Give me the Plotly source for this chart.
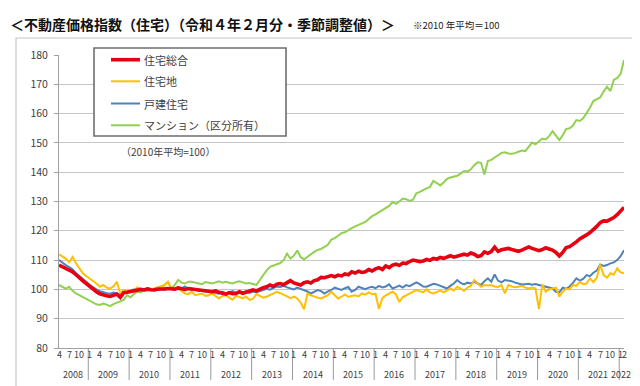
import plotly.graph_objects as go

# ---------------- data (monthly, 2008-04 .. 2022-02, 2010 average = 100) ----------------
start_year, start_month = 2008, 4

total = [  # 住宅総合
    108.3, 107.8, 107.2, 106.6, 106.0, 105.0, 103.8, 102.9, 102.0,
    101.0, 100.0, 99.2, 98.5, 98.0, 97.8, 97.6, 98.0, 98.4, 97.3, 98.9, 99.0,
    99.2, 99.5, 99.7, 100.0, 99.8, 100.2, 99.9, 99.8, 100.1, 100.0, 100.2, 100.3,
    100.3, 100.1, 100.5, 100.2, 100.0, 100.3, 100.2, 99.9, 100.0, 99.6, 99.7, 99.4,
    99.2, 99.5, 99.0, 98.8, 98.4, 98.9, 98.5, 98.6, 99.2, 98.7, 99.0, 99.3,
    99.8, 99.5, 100.2, 100.6, 100.9, 101.5, 101.0, 101.8, 102.0, 101.6, 102.3, 103.0,
    102.2, 101.8, 101.5, 102.3, 102.6, 102.2, 103.0, 103.3, 104.1, 104.0, 104.5, 104.7,
    104.3, 104.9, 104.6, 105.3, 105.0, 106.0, 105.6, 106.2, 105.8, 106.0, 106.8, 106.3,
    107.0, 107.4, 106.8, 108.0, 107.4, 108.3, 108.6, 108.2, 109.0, 108.8, 109.5, 110.0,
    109.8, 109.5, 109.7, 110.2, 109.9, 110.6, 110.3, 110.9, 110.6, 111.2, 111.5, 111.0,
    111.3, 111.6, 112.0, 111.7, 112.4, 112.0, 111.2, 111.5, 112.8, 112.3, 112.9, 114.4,
    113.0, 113.5, 113.8, 114.0, 113.6, 113.2, 113.0, 113.4, 113.9, 114.5, 114.0, 113.6,
    113.2, 113.6, 114.2, 113.8, 113.4, 112.6, 111.4, 112.6, 114.3, 114.6, 115.3, 116.2,
    117.2, 117.8, 118.6, 119.4, 120.3, 121.5, 122.8, 123.4, 123.3, 123.8, 124.5, 125.5,
    126.6, 128.0,
]

land = [  # 住宅地
    112.0, 111.3, 110.5, 109.3, 111.1, 108.9, 107.0, 105.5, 104.6,
    103.8, 102.8, 102.0, 100.9, 101.5, 100.6, 100.3, 101.0, 102.6, 98.6, 99.8, 99.2,
    99.8, 99.5, 100.7, 100.0, 99.6, 100.2, 99.8, 100.3, 100.7, 101.0, 101.5, 102.6,
    100.3, 100.0, 100.2, 99.5, 98.6, 98.4, 99.2, 98.0, 98.3, 98.6, 97.8, 98.0,
    98.6, 97.6, 96.9, 97.8, 98.0, 97.2, 96.5, 97.8, 97.5, 97.0, 97.5, 96.4,
    96.8, 98.4, 97.8, 97.2, 97.5, 98.0, 98.6, 99.2, 98.7, 98.0, 97.6, 97.0,
    97.5, 96.9, 95.5, 93.2, 98.6, 98.0, 97.5, 97.2, 96.9, 97.4, 98.0, 99.2,
    98.0, 96.9, 97.5, 98.3, 97.5, 97.8, 98.0, 97.6, 98.6, 98.2, 99.0, 98.4,
    98.5, 93.3, 97.0, 98.0, 98.6, 99.2, 98.3, 95.7, 97.4, 98.0, 98.6, 99.2,
    99.8, 99.4, 99.0, 100.0, 99.0, 98.6, 99.2, 99.6, 99.0, 99.8, 100.3, 99.6,
    100.9, 100.3, 99.5, 100.6, 101.2, 103.2, 102.0, 100.9, 101.5, 101.3, 101.5, 101.0,
    100.8, 101.5, 98.6, 101.5, 101.0, 100.7, 100.9, 101.2, 100.6, 100.3, 100.6, 100.3,
    93.3, 101.7, 99.2, 100.0, 100.3, 100.6, 97.5, 99.2, 100.3, 100.0, 101.5, 101.2,
    102.6, 101.8, 102.0, 103.8, 102.5, 104.0, 108.5, 104.9, 104.0, 105.5, 105.0, 107.2,
    105.8, 105.5,
]

house = [  # 戸建住宅
    110.0, 109.0, 108.3, 107.6, 106.8, 105.5, 104.6, 103.5, 102.6,
    101.5, 100.6, 100.0, 99.4, 99.0, 98.7, 98.5, 98.9, 98.6, 98.0, 99.0, 99.4,
    99.6, 100.0, 99.8, 100.2, 99.9, 100.4, 100.0, 99.7, 100.2, 100.1, 99.8, 100.3,
    100.5, 100.0, 100.8, 100.3, 101.0, 100.2, 99.8, 100.0, 99.5, 99.7, 99.2, 99.5,
    99.0, 98.8, 98.5, 99.2, 98.6, 99.0, 99.4, 98.9, 99.2, 99.0, 99.4, 98.8,
    99.3, 99.0, 99.5, 99.8, 100.2, 99.9, 100.5, 101.0, 100.8, 101.2, 100.7, 100.4,
    100.0, 100.6, 100.2, 99.8, 99.3, 98.6, 99.2, 99.8, 99.4, 98.6, 99.3, 99.8,
    100.6, 100.2, 99.8, 100.4, 100.8, 99.2, 99.8, 100.9, 100.5, 100.1, 100.6, 100.9,
    100.4, 101.2, 100.7, 101.0, 101.7, 100.3, 100.8, 101.3, 100.6, 101.5, 101.1, 101.9,
    102.4, 101.8, 101.0, 100.9, 101.4, 101.9, 101.7, 101.2, 100.6, 100.3, 101.2, 102.0,
    103.2, 102.2, 101.7, 102.3, 102.0, 102.6, 102.0, 101.5, 102.8, 103.8, 102.6, 105.1,
    103.0, 102.4, 103.2, 103.0, 102.8, 102.3, 102.0, 101.7, 101.8, 101.9, 101.6, 101.8,
    101.5, 101.2, 100.9, 100.7, 100.3, 99.2, 99.0, 100.6, 100.2, 101.0, 102.2, 103.8,
    103.0, 103.6, 104.9, 104.5, 105.7, 106.4, 108.5, 108.0, 108.3, 108.9, 109.2, 110.0,
    111.3, 113.4,
]

condo = [  # マンション（区分所有）
    101.5, 100.8, 100.3, 100.9, 99.5, 98.6, 98.0, 97.5, 96.9,
    96.2, 95.5, 94.9, 94.7, 95.2, 94.8, 94.3, 95.0, 95.4, 95.8, 96.4, 98.0,
    97.3, 98.4, 99.2, 99.0, 99.8, 99.5, 100.0, 100.3, 100.0, 100.3, 101.5, 102.6,
    100.3, 101.5, 103.2, 102.3, 102.0, 102.6, 102.6, 102.3, 102.0, 101.8, 102.5, 102.2,
    102.0, 102.4, 102.8, 102.3, 102.6, 102.3, 102.0, 102.5, 102.8, 102.4, 102.0, 102.2,
    101.8, 101.5, 103.2, 105.0, 106.5, 107.7, 108.2, 108.6, 109.0, 110.0, 112.2, 110.5,
    111.5, 113.3, 111.0, 110.3, 111.2, 112.0, 112.8, 113.5, 113.8, 114.5, 115.2, 117.0,
    117.5, 118.3, 119.2, 119.5, 120.3, 120.9, 121.5, 122.0, 122.6, 123.0, 124.0, 125.0,
    125.6, 126.3, 127.2, 127.8, 128.5, 129.8, 129.2, 130.0, 131.0, 130.8, 130.2, 130.6,
    132.8, 133.3, 134.0, 134.5, 135.0, 137.0, 136.3, 135.5, 136.5, 137.7, 138.2, 138.6,
    138.8, 139.5, 140.4, 140.2, 141.0, 142.4, 143.4, 143.2, 139.2, 143.8, 144.2, 145.0,
    145.8, 146.6, 146.8, 146.4, 146.3, 146.5, 147.0, 147.4, 147.2, 148.5, 150.1, 149.5,
    150.6, 151.5, 151.2, 152.3, 154.0, 152.5, 151.0, 152.6, 154.7, 155.0, 155.9, 157.8,
    157.5, 158.4, 160.0, 162.0, 164.3, 165.0, 165.5, 167.5, 169.2, 167.7, 171.5, 172.2,
    173.5, 178.3,
]

series_names = ["住宅総合", "住宅地", "戸建住宅", "マンション（区分所有）"]
series_colors = ["#e60012", "#ffc000", "#4f81bd", "#92d050"]
series_widths = [3.6, 2.0, 2.0, 2.0]
month_label_set = [1, 4, 7, 10]
y_ticks = [80, 90, 100, 110, 120, 130, 140, 150, 160, 170, 180]

# ---------------- geometry helpers ----------------
W, H = 640, 386
PL, PR, PT, PB = 51, 616, 47, 340
FONT = "Noto Sans CJK JP"


def px_x(x):
    return (x - PL) / (PR - PL)


def px_y(y):
    return (PB - y) / (PB - PT)


n = len(total)
assert all(len(s) == n for s in (land, house, condo)), [len(s) for s in (total, land, house, condo)]

months = []
yy, mm = start_year, start_month
for _ in range(n):
    months.append((yy, mm))
    mm += 1
    if mm > 12:
        yy, mm = yy + 1, 1
idx = list(range(n))

fig = go.Figure()
all_series = [total, land, house, condo]
draw_order = [3, 2, 1, 0]
for k in draw_order:
    fig.add_trace(go.Scatter(
        x=idx, y=all_series[k], mode="lines", name=series_names[k],
        line=dict(color=series_colors[k], width=series_widths[k]),
        showlegend=False,
    ))

annotations = []
shapes = []
label_font = dict(family=FONT, size=9, color="#404040")

# month labels
for i, (y_, m_) in enumerate(months):
    show = m_ in month_label_set or (i == n - 1)
    if show:
        annotations.append(dict(x=i, y=px_y(346), xref="x", yref="paper", text=str(m_),
                                showarrow=False, font=label_font, xanchor="center", yanchor="middle"))

# year labels and separators
years = sorted(set(y_ for y_, _ in months))
for yr in years:
    ids = [i for i, (y_, _) in enumerate(months) if y_ == yr]
    first, last = ids[0], ids[-1]
    left = first - 0.5 if first > 0 else 0
    right = last + 0.5 if last < n - 1 else n - 1
    annotations.append(dict(x=(left + right) / 2, y=px_y(366), xref="x", yref="paper", text=str(yr),
                            showarrow=False, font=dict(family=FONT, size=9, color="#404040"),
                            xanchor="center", yanchor="middle"))
    if first > 0:
        shapes.append(dict(type="line", xref="x", yref="paper", x0=first - 0.4, x1=first - 0.4,
                           y0=0, y1=px_y(372), line=dict(color="#9a9a9a", width=1)))

# outer frame
shapes.append(dict(type="rect", xref="paper", yref="paper", x0=px_x(8), x1=px_x(627),
                   y0=px_y(380), y1=px_y(30), line=dict(color="#c4c4c4", width=1.2), layer="below"))

# legend box (drawn in the Excel style of the original)
shapes.append(dict(type="rect", xref="paper", yref="paper", x0=px_x(86), x1=px_x(278),
                   y0=px_y(128), y1=px_y(40), line=dict(color="#6e6e6e", width=1.6),
                   fillcolor="white", layer="above"))
legend_rows = [51.7, 73.3, 95.5, 117.3]
for k in range(4):
    ry = legend_rows[k]
    shapes.append(dict(type="line", xref="paper", yref="paper", x0=px_x(103), x1=px_x(132),
                       y0=px_y(ry), y1=px_y(ry),
                       line=dict(color=series_colors[k], width=series_widths[k])))
    annotations.append(dict(x=px_x(134), y=px_y(ry), xref="paper", yref="paper", text=series_names[k],
                            showarrow=False, xanchor="left", yanchor="middle",
                            font=dict(family=FONT, size=11, color="#404040")))

# titles
annotations.append(dict(x=px_x(0), y=px_y(16), xref="paper", yref="paper",
                        text="<b>＜不動産価格指数（住宅）（令和４年２月分・季節調整値）＞</b>",
                        showarrow=False, xanchor="left", yanchor="middle",
                        font=dict(family=FONT, size=14, color="#111111")))
annotations.append(dict(x=px_x(403), y=px_y(17), xref="paper", yref="paper",
                        text="※2010 年平均＝100", showarrow=False, xanchor="left", yanchor="middle",
                        font=dict(family=FONT, size=9.5, color="#222222")))
annotations.append(dict(x=px_x(160), y=px_y(143), xref="paper", yref="paper",
                        text="（2010年平均=100）", showarrow=False, xanchor="center", yanchor="middle",
                        font=dict(family=FONT, size=10, color="#404040")))

fig.update_layout(
    width=W, height=H,
    margin=dict(l=PL, r=W - PR, t=PT, b=H - PB, pad=0),
    paper_bgcolor="white", plot_bgcolor="white",
    showlegend=False,
    annotations=annotations, shapes=shapes,
    xaxis=dict(range=[0, n - 1], showgrid=False, zeroline=False, showticklabels=False,
               ticks="", showline=True, linecolor="#a0a0a0", linewidth=1),
    yaxis=dict(range=[80, 180], tickvals=y_ticks, showgrid=True, gridcolor="#c6c6c6", gridwidth=1,
               zeroline=False, showline=True, linecolor="#a0a0a0", linewidth=1,
               ticks="outside", ticklen=4, tickcolor="#a0a0a0", ticklabelstandoff=4,
               tickfont=dict(family=FONT, size=10.5, color="#404040")),
)

fig.write_html("out.html")
